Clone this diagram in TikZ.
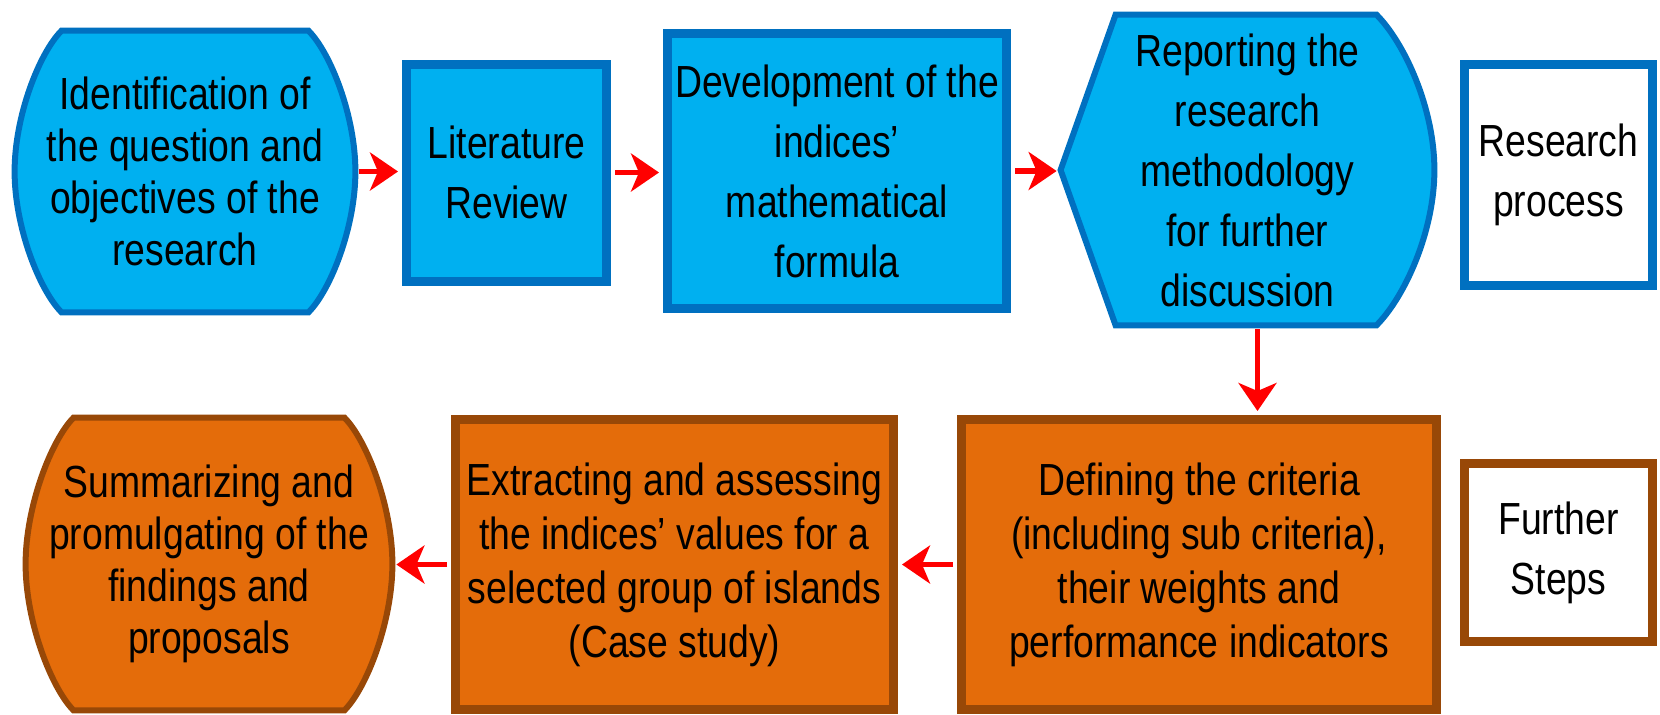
\documentclass[tikz,border=0pt]{standalone}
\usepackage{fontspec}
\setmainfont{Liberation Sans}[FakeStretch=0.83]
\usepackage{tikz}
\usetikzlibrary{calc}
\usetikzlibrary{arrows.meta}
\usetikzlibrary{backgrounds}

\definecolor{bluefill}{HTML}{00B0F0}
\definecolor{blueline}{HTML}{0070C0}
\definecolor{orangefill}{HTML}{E46C0A}
\definecolor{brownline}{HTML}{984807}

\begin{document}
\begin{tikzpicture}[x = 0.5pt, y = -0.5pt]
	\tikzset{every node/.style = {align = center}}
	\tikzset{stagebox/.style = {rectangle, draw, line width = 4.5pt, inner sep = 0pt, font = {\fontsize{22.5}{30}\selectfont}}}
	\tikzset{process/.style = {stagebox, draw = blueline, fill = bluefill}}
	\tikzset{further/.style = {stagebox, draw = brownline, fill = orangefill, font = {\fontsize{22.5}{27}\selectfont}}}
	\tikzset{terminal/.style = {inner sep = 0pt, font = {\fontsize{22.5}{26}\selectfont}}}
	\tikzset{outline/.style = {line width = 3pt}}
	\tikzset{flow/.style = {-{Stealth[length = 14pt, width = 19pt, inset = 4pt]}, line width = 2.6pt, red, shorten < = 2pt, shorten > = 2pt}}

\useasboundingbox (0,0) rectangle (1660,714);

%% Research process row

\draw (185,171.5) node[name = ident, terminal, minimum width = 170pt, minimum height = 140.5pt]{Identification of\\the question and\\objectives of the\\research};

\draw (506.5,172.5) node[name = litrev, process, minimum width = 100pt, minimum height = 108.5pt]{Literature\\Review};

\draw (837,171) node[name = devel, process, minimum width = 169.5pt, minimum height = 137.5pt]{Development of the\\indices'\\mathematical\\formula};

\draw (1247.5,170) node[name = report, terminal, minimum width = 186.5pt, minimum height = 155pt, font = {\fontsize{22.5}{30}\selectfont}]{Reporting the\\research\\methodology\\for further\\discussion};

%% Further steps row

\draw (1199,564.5) node[name = define, further, minimum width = 237.5pt, minimum height = 145pt]{Defining the criteria\\(including sub criteria),\\their weights and\\performance indicators};

\draw (674.5,564.5) node[name = extract, further, minimum width = 219pt, minimum height = 145pt]{Extracting and assessing\\the indices' values for a\\selected group of islands\\(Case study)};

\draw (209,564) node[name = summ, terminal, minimum width = 183pt, minimum height = 146pt]{Summarizing and\\promulgating of the\\findings and\\proposals};

%% Legend

\draw (1558.5,175) node[name = legres, stagebox, draw = blueline, fill = white, minimum width = 94pt, minimum height = 110.5pt]{Research\\process};
\draw (1558.5,552.5) node[name = legfur, stagebox, draw = brownline, fill = white, minimum width = 94pt, minimum height = 89pt]{Further\\Steps};

%% Outlines of the terminal and display shapes
\begin{scope}[on background layer]
\draw[outline, draw = blueline, fill = bluefill]
	($(ident.north west)+(23.5pt,0)$) -- ($(ident.north east)+(-23.5pt,0)$)
	.. controls ($(ident.north east)+(-12.5pt,-11pt)$) and ($(ident.east)+(0,28pt)$) .. (ident.east)
	.. controls ($(ident.east)+(0,-28pt)$) and ($(ident.south east)+(-12.5pt,11pt)$) .. ($(ident.south east)+(-23.5pt,0)$)
	-- ($(ident.south west)+(23.5pt,0)$)
	.. controls ($(ident.south west)+(12.5pt,11pt)$) and ($(ident.west)+(0,-28pt)$) .. (ident.west)
	.. controls ($(ident.west)+(0,28pt)$) and ($(ident.north west)+(12.5pt,-11pt)$) .. cycle;
\draw[outline, draw = blueline, fill = bluefill]
	(report.west) -- ($(report.north west)+(27.5pt,0)$) -- ($(report.north east)+(-29pt,0)$)
	.. controls ($(report.north east)+(-15pt,-14pt)$) and ($(report.east)+(0,31pt)$) .. (report.east)
	.. controls ($(report.east)+(0,-31pt)$) and ($(report.south east)+(-15pt,14pt)$) .. ($(report.south east)+(-29pt,0)$)
	-- ($(report.south west)+(27.5pt,0)$) -- cycle;
\draw[outline, draw = brownline, fill = orangefill]
	($(summ.north west)+(24pt,0)$) -- ($(summ.north east)+(-24pt,0)$)
	.. controls ($(summ.north east)+(-13pt,-11pt)$) and ($(summ.east)+(0,29pt)$) .. (summ.east)
	.. controls ($(summ.east)+(0,-29pt)$) and ($(summ.south east)+(-13pt,11pt)$) .. ($(summ.south east)+(-24pt,0)$)
	-- ($(summ.south west)+(24pt,0)$)
	.. controls ($(summ.south west)+(13pt,11pt)$) and ($(summ.west)+(0,-29pt)$) .. (summ.west)
	.. controls ($(summ.west)+(0,29pt)$) and ($(summ.north west)+(13pt,-11pt)$) .. cycle;
\end{scope}

%% Edges
\draw[flow] (ident.east) -- (ident.east -| litrev.west);
\draw[flow] (litrev.east) -- (litrev.east -| devel.west);
\draw[flow] (devel.east) -- (devel.east -| report.west);
\draw[flow] ([xshift = 5pt]report.south) -- ([xshift = 5pt]report.south |- define.north);
\draw[flow] (define.west) -- (define.west -| extract.east);
\draw[flow] (extract.west) -- (extract.west -| summ.east);

\end{tikzpicture}
\end{document}
